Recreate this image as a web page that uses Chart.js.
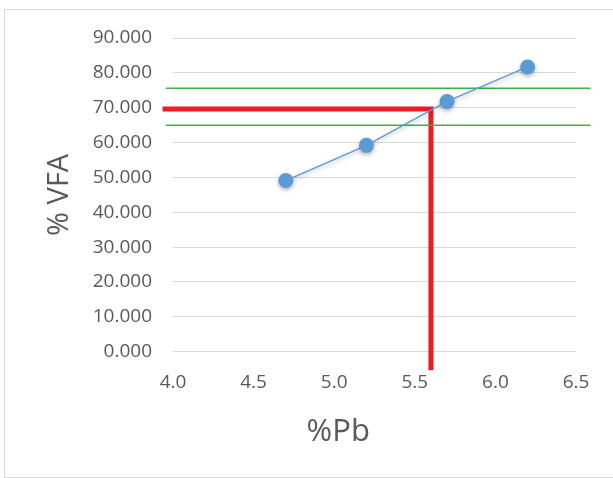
<!DOCTYPE html>
<html>
<head>
<meta charset="utf-8">
<script src="https://cdn.jsdelivr.net/npm/chart.js@4/dist/chart.umd.min.js"></script>
<style>
  html, body { margin: 0; padding: 0; background: #fff; }
  #frame { position: absolute; left: 4px; top: 9px; width: 700px; height: 467px; border: 1px solid #d9d9d9; }
  #wrap { position: absolute; left: 0; top: 0; width: 613px; height: 478px; }
</style>
</head>
<body>
<div id="frame"></div>
<div id="wrap"><canvas id="vfaChart"></canvas></div>
<script>
// số liệu
const pbValues = [4.7, 5.2, 5.7, 6.2];
const vfaValues = [49.1, 59.2, 71.8, 81.7];

// giới hạn VFA (đường xanh) và giá trị chọn (đường đỏ)
const vfaUpper = 75.6;
const vfaLower = 65.0;
const greenXs = [3.955, 6.59];
const redXs = [3.935, 5.6, 5.6];
const redYs = [69.6, 69.6, -5.3];

const xTicks = [4.0, 4.5, 5.0, 5.5, 6.0, 6.5];
const yTicks = [0, 10, 20, 30, 40, 50, 60, 70, 80, 90];
const xTitle = '%Pb';

const COLOR_TEXT = "#595959";
const COLOR_GRID = "#d9d9d9";
const COLOR_BLUE = "#5b9bd5";
const COLOR_GREEN = "#3cb34a";
const COLOR_RED = "#ed1c24";
const FONT = "'Open Sans', sans-serif";

const toPoints = (xs, ys) => xs.map((x, i) => ({ x: x, y: ys[i] }));

// bóng mờ cho đường + điểm dữ liệu (giống Excel)
const shadowPlugin = {
    id: 'shadow',
    beforeDatasetDraw(chart, args) {
        if (args.index !== 0) return;
        const c = chart.ctx;
        c.save();
        c.shadowColor = 'rgba(0,0,0,0.3)';
        c.shadowBlur = 4;
        c.shadowOffsetY = 2;
    },
    afterDatasetDraw(chart, args) {
        if (args.index === 0) chart.ctx.restore();
    }
};

// tiêu đề trục X lệch trái như bản gốc
const xTitlePlugin = {
    id: 'xTitle',
    afterDraw(chart) {
        const c = chart.ctx;
        const a = chart.chartArea;
        c.save();
        c.font = "31px " + FONT;
        c.fillStyle = COLOR_TEXT;
        c.textAlign = 'center';
        c.textBaseline = 'middle';
        c.fillText(xTitle, a.left + (a.right - a.left) * 0.41, a.bottom + 80);
        c.restore();
    }
};

const ctx = document.getElementById('vfaChart').getContext('2d');
new Chart(ctx, {
    type: 'scatter',
    data: {
        datasets: [
            {
                label: 'VFA',
                data: toPoints(pbValues, vfaValues),
                showLine: true,
                borderColor: COLOR_BLUE,
                borderWidth: 1.3,
                pointRadius: 7.5,
                pointBackgroundColor: COLOR_BLUE,
                pointBorderWidth: 0
            },
            {
                label: 'max',
                data: toPoints(greenXs, [vfaUpper, vfaUpper]),
                showLine: true,
                borderColor: COLOR_GREEN,
                borderWidth: 1.5,
                pointRadius: 0,
                clip: false
            },
            {
                label: 'min',
                data: toPoints(greenXs, [vfaLower, vfaLower]),
                showLine: true,
                borderColor: COLOR_GREEN,
                borderWidth: 1.5,
                pointRadius: 0,
                clip: false
            },
            {
                label: 'chọn',
                data: toPoints(redXs, redYs),
                showLine: true,
                borderColor: COLOR_RED,
                borderWidth: 5,
                borderJoinStyle: 'miter',
                pointRadius: 0,
                clip: false
            }
        ]
    },
    options: {
        responsive: true,
        maintainAspectRatio: false,
        animation: false,
        layout: { padding: { left: 0, top: 38, right: 37, bottom: 0 } },
        scales: {
            x: {
                type: 'linear',
                min: 4.0,
                max: 6.5,
                afterBuildTicks: (s) => { s.ticks = xTicks.map(v => ({ value: v })); },
                afterFit: (s) => { s.height = 126.3; },
                ticks: {
                    color: COLOR_TEXT,
                    font: { family: FONT, size: 19 },
                    padding: 11,
                    callback: (v) => Number(v).toFixed(1)
                },
                grid: { display: false },
                border: { display: false },
                title: { display: false }
            },
            y: {
                type: 'linear',
                min: 0,
                max: 90,
                afterBuildTicks: (s) => { s.ticks = yTicks.map(v => ({ value: v })); },
                afterFit: (s) => { s.width = 173; },
                ticks: {
                    color: COLOR_TEXT,
                    font: { family: FONT, size: 19 },
                    padding: 21,
                    callback: (v) => Number(v).toFixed(3)
                },
                grid: { color: COLOR_GRID, lineWidth: 1, drawTicks: false },
                border: { display: false },
                title: {
                    display: true,
                    text: '% VFA',
                    color: COLOR_TEXT,
                    font: { family: FONT, size: 29 },
                    padding: { top: 42, bottom: 0 }
                }
            }
        },
        plugins: {
            legend: { display: false },
            tooltip: { enabled: false }
        }
    },
    plugins: [shadowPlugin, xTitlePlugin]
});
</script>
</body>
</html>
